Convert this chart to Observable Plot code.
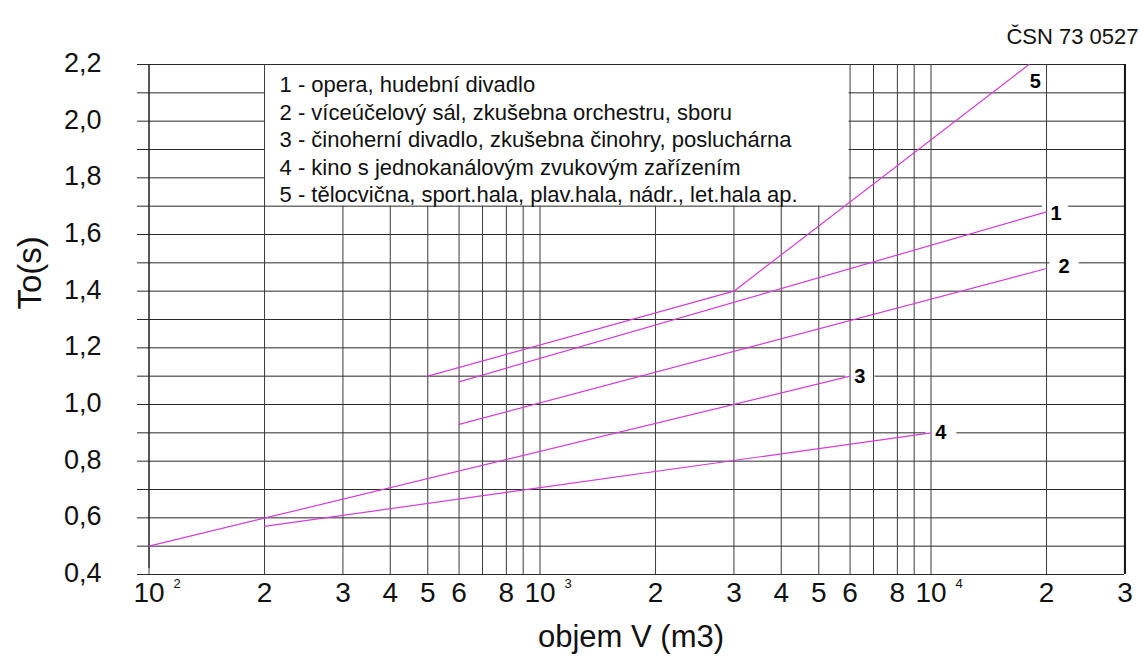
<!DOCTYPE html>
<html><head><meta charset="utf-8">
<script src="https://cdn.jsdelivr.net/npm/d3@7"></script>
<script src="https://cdn.jsdelivr.net/npm/@observablehq/plot@0.6"></script>
<style>
html,body{margin:0;padding:0;background:#fff;}
#chart svg{display:block;}
</style></head><body><div id="chart"></div>
<script>
// ---- data ----
const seriesIds = ["1", "2", "3", "4", "5"];
const line1V = [600, 20000],        line1T = [1.08, 1.68];
const line2V = [600, 20000],        line2T = [0.93, 1.48];
const line3V = [100, 6000],         line3T = [0.50, 1.10];
const line4V = [200, 10000],        line4T = [0.57, 0.90];
const line5V = [500, 3000, 18000],  line5T = [1.10, 1.40, 2.20];

const legendLabels = [
  "1 - opera, hudební divadlo",
  "2 - víceúčelový sál, zkušebna orchestru, sboru",
  "3 - činoherní divadlo, zkušebna činohry, posluchárna",
  "4 - kino s jednokanálovým zvukovým zařízením",
  "5 - tělocvična, sport.hala, plav.hala, nádr., let.hala ap."
];
// where the curve numbers sit
const labelV = [21000, 21900, 6400, 10600, 18700];
const labelT = [1.675, 1.485, 1.10, 0.90, 2.14];

const gridV = [100,200,300,400,500,600,700,800,900,
               1000,2000,3000,4000,5000,6000,7000,8000,9000,
               10000,20000,30000];
const gridT = [0.4,0.5,0.6,0.7,0.8,0.9,1.0,1.1,1.2,1.3,1.4,1.5,1.6,1.7,1.8,1.9,2.0,2.1,2.2];
const xTickValues = [100,200,300,400,500,600,800,1000,2000,3000,4000,5000,6000,8000,10000,20000,30000];
const xTickText   = ["10","2","3","4","5","6","8","10","2","3","4","5","6","8","10","2","3"];
const xExpValues  = [100, 1000, 10000];
const xExpText    = ["2", "3", "4"];
const yTickValues = [0.4,0.6,0.8,1.0,1.2,1.4,1.6,1.8,2.0,2.2];
const legendBox = {x1: 200, x2: 6000, y1: 1.7, y2: 2.2};
const standard = "ČSN 73 0527";

// ---- build tables ----
const allV = [line1V, line2V, line3V, line4V, line5V];
const allT = [line1T, line2T, line3T, line4T, line5T];
const rows = [];
seriesIds.forEach((id, i) => allV[i].forEach((v, j) => rows.push({id, V: v, T: allT[i][j]})));
const labelRows = seriesIds.map((id, i) => ({id, V: labelV[i], T: labelT[i]}));
const xTicks = xTickValues.map((v, i) => ({v, t: xTickText[i]}));
const xExps = xExpValues.map((v, i) => ({v, t: xExpText[i]}));

// hand-drawn log paper: positions of mantissas 1..9 within one decade (fraction)
const mantissaPos = [0, 0.2955, 0.496, 0.617, 0.713, 0.793, 0.853, 0.914, 0.957];
const X0 = 148.5, DEC = 391;
function paperX(v) {
  const e = Math.floor(Math.log10(v) + 1e-9);
  const m = Math.round(v / 10 ** e);
  return X0 + DEC * (e - 2 + mantissaPos[m - 1]);
}
const xRange = gridV.map(paperX);
const W = 1139, H = 664;
const mRight = Math.round(W - xRange[xRange.length - 1]);

const inBox = v => v > legendBox.x1 && v < legendBox.x2;
const font = "'Liberation Sans', Arial, Helvetica, sans-serif";
const magenta = "#d63cd6";

const chart = Plot.plot({
  width: W, height: H,
  marginLeft: 137, marginRight: mRight, marginTop: 64, marginBottom: 90,
  x: {type: "log", domain: gridV, range: xRange, axis: null},
  y: {domain: [0.4, 2.2], axis: null},
  style: {fontFamily: font, background: "white", color: "#111"},
  marks: [
    Plot.ruleY(gridT, {y: d => d, stroke: "#2a2a2a", strokeWidth: 1}),
    Plot.rect([legendBox], {x1: "x1", x2: "x2", y1: "y1", y2: "y2", fill: "white", inset: 1}),
    Plot.text(labelRows, {filter: d => d.id !== "5", x: "V", y: "T", text: "id",
      fontSize: 20, fontWeight: "bold", fill: "white", stroke: "white", strokeWidth: 20}),
    Plot.ruleX(gridV, {x: d => d, y1: () => 0.4, y2: d => inBox(d) ? legendBox.y1 : 2.2,
      stroke: "#3a3a3a", strokeWidth: 1}),
    Plot.ruleX([gridV[0]], {x: d => d, y1: () => 0.4, y2: () => 2.2, insetTop: -6, stroke: "#111", strokeWidth: 1}),
    Plot.ruleX([gridV[gridV.length - 1]], {x: d => d, y1: () => 0.4, y2: () => 2.2, stroke: "#111", strokeWidth: 2}),
    Plot.line(rows, {x: "V", y: "T", z: "id", stroke: magenta, strokeWidth: 1.2}),
    Plot.text(labelRows, {x: "V", y: "T", text: "id", fontSize: 20, fontWeight: "bold", fill: "black"}),
    Plot.text([legendLabels.join("\n")], {x: () => legendBox.x1, y: () => legendBox.y2, text: d => d,
      textAnchor: "start", lineAnchor: "top", lineHeight: 1.25, dx: 15, dy: 8, fontSize: 22, fill: "#111"}),
    Plot.text(yTickValues, {y: d => d, frameAnchor: "left", textAnchor: "end", dx: -36, dy: -1,
      text: d => d.toFixed(1).replace(".", ","), fontSize: 27, fill: "#111"}),
    Plot.text(xTicks, {x: "v", frameAnchor: "bottom", dy: 27, text: "t", fontSize: 28, fill: "#111"}),
    Plot.text(xExps, {x: "v", frameAnchor: "bottom", dx: 28, dy: 13, text: "t", fontSize: 13, fill: "#111"}),
    Plot.text(["objem V (m3)"], {frameAnchor: "bottom", dy: 72, text: d => d, fontSize: 31, fill: "#111"}),
    Plot.text(["To(s)"], {frameAnchor: "left", dx: -107, dy: -10, rotate: -90, text: d => d, fontSize: 33, fill: "#111"}),
    Plot.text([standard], {frameAnchor: "top-right", textAnchor: "end", dx: 14, dy: -36, text: d => d, fontSize: 22, fill: "#111"})
  ]
});
document.getElementById("chart").appendChild(chart);
</script></body></html>
